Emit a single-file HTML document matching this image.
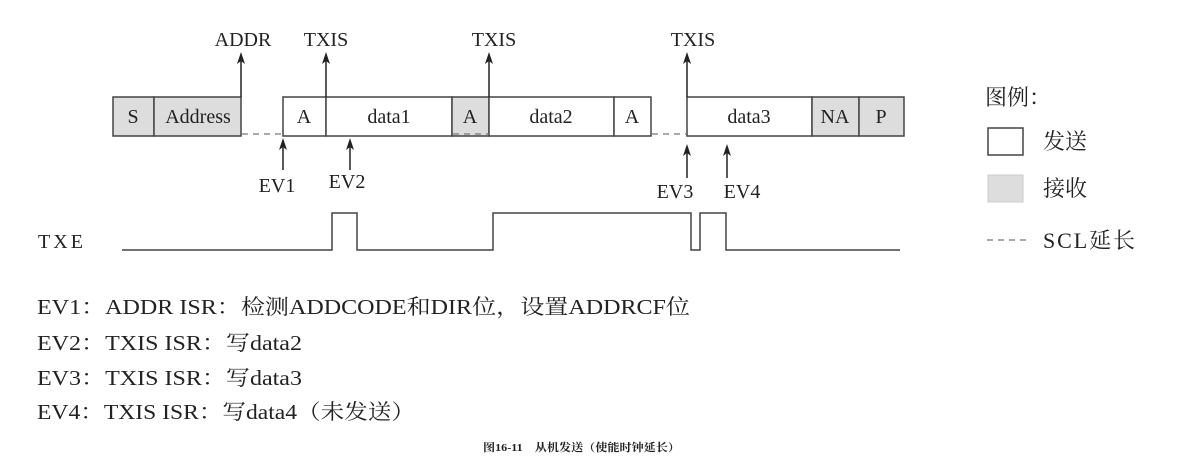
<!DOCTYPE html>
<html><head><meta charset="utf-8"><style>
html,body{margin:0;padding:0;background:#fff;}
svg text{font-family:"Liberation Serif","Noto Serif CJK SC",serif;fill:#222;}
</style></head><body>
<svg width="1182" height="471" viewBox="0 0 1182 471" xmlns="http://www.w3.org/2000/svg">
<g stroke="#444" stroke-width="1.5">
<rect x="113" y="97" width="41" height="39" fill="#ddd"/>
<rect x="154" y="97" width="87" height="39" fill="#ddd"/>
<rect x="283" y="97" width="43" height="39" fill="#fff"/>
<rect x="326" y="97" width="126" height="39" fill="#fff"/>
<rect x="452" y="97" width="37" height="39" fill="#ddd"/>
<rect x="489" y="97" width="125" height="39" fill="#fff"/>
<rect x="614" y="97" width="37" height="39" fill="#fff"/>
<rect x="687" y="97" width="125" height="39" fill="#fff"/>
<rect x="812" y="97" width="47" height="39" fill="#ddd"/>
<rect x="859" y="97" width="45" height="39" fill="#ddd"/>
</g>
<g stroke="#777" stroke-width="1.2" stroke-dasharray="6,5">
<line x1="242" y1="134" x2="283" y2="134"/>
<line x1="453" y1="134" x2="489" y2="134"/>
<line x1="652" y1="134" x2="687" y2="134"/>
<line x1="987" y1="240" x2="1030" y2="240"/>
</g>
<g font-size="20" text-anchor="middle">
<text x="133" y="123">S</text><text x="198" y="123">Address</text>
<text x="304" y="123">A</text><text x="389" y="123">data1</text>
<text x="470" y="123">A</text><text x="551" y="123">data2</text>
<text x="632" y="123">A</text><text x="749" y="123">data3</text>
<text x="835" y="123">NA</text><text x="881" y="123">P</text>
<text x="243" y="46">ADDR</text><text x="326" y="46">TXIS</text>
<text x="494" y="46">TXIS</text><text x="693" y="46">TXIS</text>
<text x="277" y="192">EV1</text><text x="347" y="188">EV2</text>
<text x="675" y="198">EV3</text><text x="742" y="198">EV4</text>
</g>
<g stroke="#222" stroke-width="1.5" fill="none">
<line x1="241" y1="97" x2="241" y2="60"/>
<line x1="326" y1="97" x2="326" y2="60"/>
<line x1="489" y1="97" x2="489" y2="60"/>
<line x1="687" y1="97" x2="687" y2="60"/>
<line x1="283" y1="170" x2="283" y2="145"/>
<line x1="350" y1="170" x2="350" y2="145"/>
<line x1="687" y1="178" x2="687" y2="152"/>
<line x1="727" y1="178" x2="727" y2="152"/>
</g>
<g fill="#222">
<path d="M241,52 L245,64 L241,61 L237,64 Z"/>
<path d="M326,52 L330,64 L326,61 L322,64 Z"/>
<path d="M489,52 L493,64 L489,61 L485,64 Z"/>
<path d="M687,52 L691,64 L687,61 L683,64 Z"/>
<path d="M283,138 L287,150 L283,147 L279,150 Z"/>
<path d="M350,138 L354,150 L350,147 L346,150 Z"/>
<path d="M687,144 L691,156 L687,153 L683,156 Z"/>
<path d="M727,144 L731,156 L727,153 L723,156 Z"/>
</g>
<text x="38" y="248" font-size="20" textLength="45">TXE</text>
<polyline fill="none" stroke="#444" stroke-width="1.5" points="122,250 332,250 332,213 357,213 357,250 493,250 493,213 691,213 691,250 700,250 700,213 726,213 726,250 900,250"/>
<text x="985" y="105" font-size="22">图例：</text>
<rect x="988" y="128" width="35" height="27" fill="#fff" stroke="#444" stroke-width="1.5"/>
<text x="1043" y="149" font-size="22">发送</text>
<rect x="988" y="175" width="35" height="27" fill="#ddd" stroke="#ccc" stroke-width="1"/>
<text x="1043" y="196" font-size="22">接收</text>
<text x="1043" y="248" font-size="22" textLength="92">SCL延长</text>
<g font-size="21">
<text x="37" y="314" textLength="653" lengthAdjust="spacingAndGlyphs">EV1：ADDR ISR：检测ADDCODE和DIR位，设置ADDRCF位</text>
<text x="37" y="350" textLength="265" lengthAdjust="spacingAndGlyphs">EV2：TXIS ISR：写data2</text>
<text x="37" y="385" textLength="265" lengthAdjust="spacingAndGlyphs">EV3：TXIS ISR：写data3</text>
<text x="37" y="419" textLength="378" lengthAdjust="spacingAndGlyphs">EV4：TXIS ISR：写data4（未发送）</text>
</g>
<text x="483" y="451" font-size="11" font-weight="bold" textLength="197" lengthAdjust="spacingAndGlyphs">图16-11　从机发送（使能时钟延长）</text>
</svg>
</body></html>
